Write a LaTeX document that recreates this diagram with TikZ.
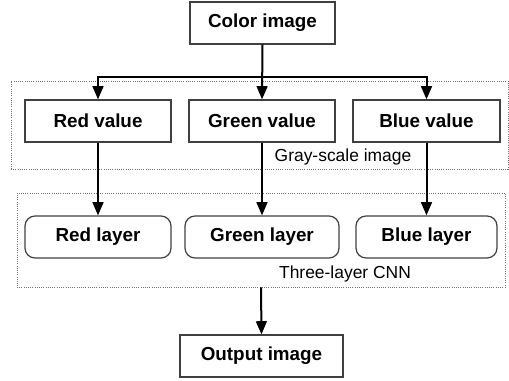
\documentclass[tikz,border=0pt]{standalone}
\usepackage{fontspec}
\setmainfont{Liberation Sans}
\usetikzlibrary{arrows.meta}
\tikzset{
	box/.style={draw=black!75, line width=0.3mm, minimum height=10.5mm, inner sep=0pt,
		font=\fontsize{13.4}{16}\selectfont\bfseries},
	layerbox/.style={box, rounded corners=2.5mm},
	frame/.style={draw=black!55, densely dotted, line width=0.2mm, inner sep=0pt},
	flow/.style={line width=0.5mm, -{Triangle[length=3.3mm,width=2.7mm]}},
	caption/.style={font=\fontsize{12.4}{15}\selectfont},
}
\begin{document}
\begin{tikzpicture}[x=0.25mm, y=-0.25mm]
	\useasboundingbox (0,0) rectangle (509,380);
	% dotted frames
	\path
	(259.5,125) node[frame, minimum width=124.25mm, minimum height=22mm] (gray) {}
	(261,240) node[frame, minimum width=122mm, minimum height=23.5mm] (cnn) {}
	(343,157) node[caption] (graylabel) {Gray-scale image}
	(345,274) node[caption] (cnnlabel) {Three-layer CNN}
	;
	% boxes
	\path
	(262.5,23) node[box, minimum width=36.25mm] (color) {Color image}
	(98,121) node[box, fill=white, minimum width=36.5mm] (redv) {Red value}
	(262,121) node[box, fill=white, minimum width=36.5mm] (greenv) {Green value}
	(426.5,121) node[box, fill=white, minimum width=36.75mm] (bluev) {Blue value}
	(98,237) node[layerbox, minimum width=36.5mm] (redl) {Red layer}
	(262,237) node[layerbox, minimum width=38.5mm] (greenl) {Green layer}
	(426.5,237) node[layerbox, minimum width=35.25mm] (bluel) {Blue layer}
	(261.5,356) node[box, minimum width=40.75mm] (out) {Output image}
	;
	% split into channels
	\coordinate (split) at (262,77);
	\draw[flow] (color.south) -- (greenv.north);
	\draw[flow] (split) -| (redv.north);
	\draw[flow] (split) -| (bluev.north);
	% channels to layers
	\draw[flow] (redv) -- (redl);
	\draw[flow] (greenv) -- (greenl);
	\draw[flow] (bluev) -- (bluel);
	% output
	\draw[flow] (cnn.south) -- (out.north);
\end{tikzpicture}
\end{document}
